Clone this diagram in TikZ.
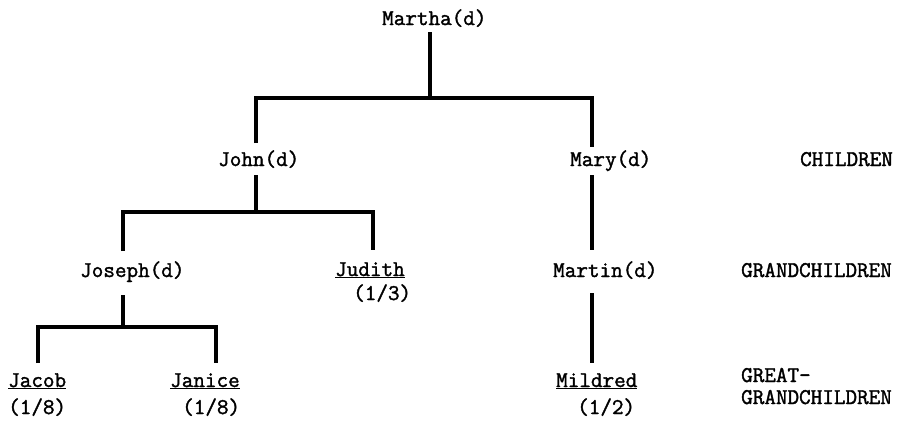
\documentclass[tikz,border=0pt]{standalone}
\usepackage{fontspec}
\newfontfamily\twfont{Latin Modern Mono}[FakeBold=1.6]
\begin{document}
\begin{tikzpicture}[x=1pt,y=-1pt,
  lbl/.style={inner sep=0pt, anchor=base west, font=\twfont\fontsize{22.5}{26}\selectfont},
  ln/.style={line width=3.2pt}]
\useasboundingbox (0,0) rectangle (897,424);
% people
\node[lbl] (martha) at (382,25) {Martha(d)};
\node[lbl] (john) at (218,166) {John(d)};
\node[lbl] (mary) at (570,166) {Mary(d)};
\node[lbl] (joseph) at (80,277) {Joseph(d)};
\node[lbl] (judith) at (335,276) {\underline{Judith}};
\node[lbl] (judithf) at (353,300) {(1/3)};
\node[lbl] (martin) at (553,277) {Martin(d)};
\node[lbl] (jacob) at (8,387) {\underline{Jacob}};
\node[lbl] (jacobf) at (8,414) {(1/8)};
\node[lbl] (janice) at (170,387) {\underline{Janice}};
\node[lbl] (janicef) at (182,414) {(1/8)};
\node[lbl] (mildred) at (556,387) {\underline{Mildred}};
\node[lbl] (mildredf) at (577,414) {(1/2)};
% generation labels
\node[lbl] (children) at (800,166) {CHILDREN};
\node[lbl] (grand) at (741,277) {GRANDCHILDREN};
\node[lbl] (great) at (741,382) {GREAT-};
\node[lbl] (greatg) at (741,404) {GRANDCHILDREN};
% connector points
\coordinate (ma-b) at (430,32);
\coordinate (bar1) at (430,98);
\coordinate (jo-t) at (256,143);
\coordinate (mr-t) at (592,147);
\coordinate (jo-b) at (256,175);
\coordinate (bar2) at (256,212);
\coordinate (js-t) at (123,251);
\coordinate (ju-t) at (373,250);
\coordinate (mr-b) at (592,175);
\coordinate (mt-t) at (592,250);
\coordinate (js-b) at (123,295);
\coordinate (bar3) at (123,327);
\coordinate (jc-t) at (38,363);
\coordinate (ja-t) at (216,363);
\coordinate (mt-b) at (592,293);
\coordinate (mi-t) at (592,363);
% connectors
\draw[ln] (ma-b) -- (bar1);
\draw[ln] (jo-t) -- (jo-t |- bar1) -- (mr-t |- bar1) -- (mr-t);
\draw[ln] (jo-b) -- (bar2);
\draw[ln] (js-t) -- (js-t |- bar2) -- (ju-t |- bar2) -- (ju-t);
\draw[ln] (mr-b) -- (mt-t);
\draw[ln] (js-b) -- (bar3);
\draw[ln] (jc-t) -- (jc-t |- bar3) -- (ja-t |- bar3) -- (ja-t);
\draw[ln] (mt-b) -- (mi-t);
\end{tikzpicture}
\end{document}
